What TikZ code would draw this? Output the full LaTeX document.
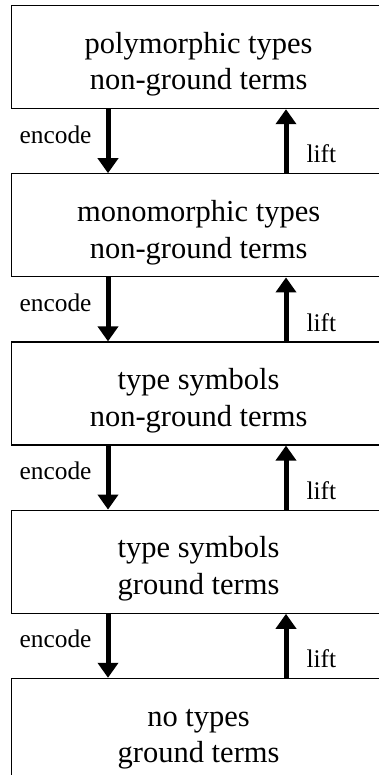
\documentclass[tikz,border=0pt]{standalone}
\usepackage{fontspec}
\setmainfont{Liberation Serif}
\usetikzlibrary{positioning,arrows.meta}

\begin{document}
\begin{tikzpicture}[
    x=1pt, y=1pt,
    node distance=64pt,
    level/.style={draw, line width=1.2pt, minimum width=374pt, minimum height=103pt,
        inner sep=0pt, align=center, font=\fontsize{30.5}{36.5}\selectfont,
        text height=72pt},
    conn/.style={line width=5pt, -{Triangle[width=20pt,length=15pt]}},
    lbl/.style={font=\fontsize{25.4}{30}\selectfont, inner sep=0pt}
]
    \clip (0,0) rectangle (379,-775);
    \useasboundingbox (0,0) rectangle (379,-775);
    \node[level, anchor=north west] (poly) at (11,-5) {polymorphic types\\non-ground terms};
    \node[level, below=of poly] (mono) {monomorphic types\\non-ground terms};
    \node[level, below=of mono] (symng) {type symbols\\non-ground terms};
    \node[level, below=of symng] (symg) {type symbols\\ground terms};
    \node[level, below=of symg] (none) {no types\\ground terms};

    \foreach \a/\b in {poly/mono, mono/symng, symng/symg, symg/none} {
        \draw[conn] ([xshift=97pt]\a.south west) -- ([xshift=97pt]\b.north west)
            node[lbl, pos=0.53, anchor=base east, xshift=-14pt] {encode};
        \draw[conn] ([xshift=275pt]\b.north west) -- ([xshift=275pt]\a.south west)
            node[lbl, pos=0.16, anchor=base west, xshift=18pt] {lift};
    }
\end{tikzpicture}
\end{document}
